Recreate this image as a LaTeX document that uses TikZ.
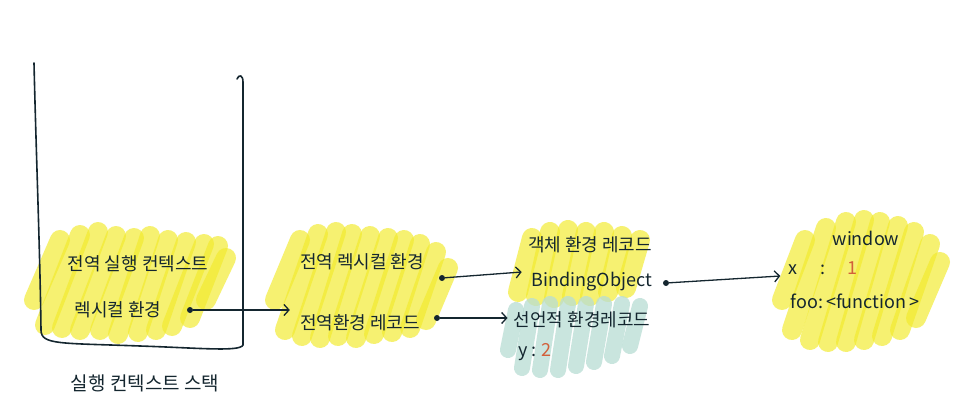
\documentclass[tikz,border=0pt]{standalone}
\usepackage{fontspec}
\newfontfamily\kr{Noto Sans CJK KR}
\usetikzlibrary{arrows.meta}
\definecolor{ink}{HTML}{14262F}
\definecolor{hly}{HTML}{F2EB2E}
\definecolor{hlt}{HTML}{B8DDD4}
\definecolor{num}{HTML}{D2603A}
\tikzset{
  lbl/.style={font=\kr\fontsize{18}{21}\selectfont, text=ink, inner sep=0pt},
  hlyel/.style={line width=20pt, line cap=round, draw=hly, opacity=0.68},
  hlteal/.style={line width=16pt, line cap=round, draw=hlt, opacity=0.75},
  conn/.style={draw=ink, line width=1.3pt, -{Straight Barb[length=5pt,width=11pt]}},
  dotn/.style={circle, fill=ink, inner sep=0pt, minimum size=6pt},
  boxline/.style={draw=ink, line width=1.6pt, line cap=round}
}
\begin{document}
\begin{tikzpicture}[x=1pt,y=-1pt]
\useasboundingbox (0,0) rectangle (959,401);
\fill[white] (0,0) rectangle (959,401);

% highlights
\foreach \a/\b/\c/\d in {34/300/60/240, 45/325/80/235, 62/328/98/232, 80/330/116/236,
  100/330/134/238, 118/334/150/236, 138/332/168/240, 156/330/186/242,
  172/326/204/244, 190/318/218/246, 206/300/226/258}
  \draw[hlyel] (\a,\b) -- (\c,\d);
\foreach \a/\b/\c/\d in {275/300/300/240, 285/330/318/234, 302/336/336/232, 320/338/352/234,
  338/336/370/236, 356/338/388/238, 374/334/404/240, 392/332/420/244,
  410/328/436/252, 426/320/448/268}
  \draw[hlyel] (\a,\b) -- (\c,\d);
\foreach \a/\b/\c/\d in {518/292/532/238, 536/296/550/232, 554/298/568/230, 572/296/586/232,
  590/296/604/232, 608/292/622/236, 626/288/640/240}
  \draw[hlyel] (\a,\b) -- (\c,\d);
\foreach \a/\b/\c/\d in {508/350/516/310, 522/368/532/306, 540/370/550/304, 558/370/568/304,
  576/366/586/304, 594/362/604/304, 612/356/622/304, 630/346/640/306}
  \draw[hlteal] (\a,\b) -- (\c,\d);
\foreach \a/\b/\c/\d in {782/300/805/240, 792/330/826/228, 810/340/846/222, 828/342/864/220,
  846/342/880/222, 864/340/898/226, 882/336/914/232, 900/330/930/244, 916/318/940/262}
  \draw[hlyel] (\a,\b) -- (\c,\d);

% execution context stack
\draw[boxline] (34,63) .. controls (36,150) and (40,250) .. (41,330)
  .. controls (41,345) and (60,343) .. (140,346)
  .. controls (200,348) and (240,352) .. (243,345)
  -- (243,82) .. controls (243,75) and (239,74) .. (237,79);
\node[lbl, font=\kr\fontsize{19}{22}\selectfont] (stk) at (145,383) {실행 컨텍스트 스택};

% global execution context
\node[lbl] (gec) at (138,264) {전역 실행 컨텍스트};
\node[lbl] (lex) at (118,310) {렉시컬 환경};
\node[dotn] (d1) at (190,310) {};

% global lexical environment
\node[lbl] (gle) at (362,262) {전역 렉시컬 환경};
\node[lbl] (ger) at (360,323) {전역환경 레코드};
\node[dotn] (d2) at (442,278) {};
\node[dotn] (d3) at (437,318) {};

% object / declarative records
\node[lbl] (oer) at (590,245) {객체 환경 레코드};
\node[lbl] (bo) at (592,282) {BindingObject};
\node[dotn] (d4) at (666,283) {};
\node[lbl] (der) at (582,320) {선언적 환경레코드};
\node[lbl, anchor=west] (yv) at (518,352) {y : \textcolor{num}{2}};

% window
\node[lbl] (win) at (866,238) {window};
\node[lbl] (xk) at (793,270) {x};
\node[lbl] (xc) at (823,270) {:};
\node[lbl, text=num] (xv) at (852,268) {1};
\node[lbl] (foo) at (855,301) {foo:\,<function\,>};

% connectors
\draw[conn] (d1) -- ([xshift=-10pt]ger.west |- d1);
\draw[conn] (d2) -- ([xshift=-10pt]bo.west |- 0,272);
\draw[conn] (d3) -- ([xshift=-6pt]der.west |- d3);
\draw[conn] (d4) -- ([xshift=-8pt]xk.west |- 0,276);
\end{tikzpicture}
\end{document}
